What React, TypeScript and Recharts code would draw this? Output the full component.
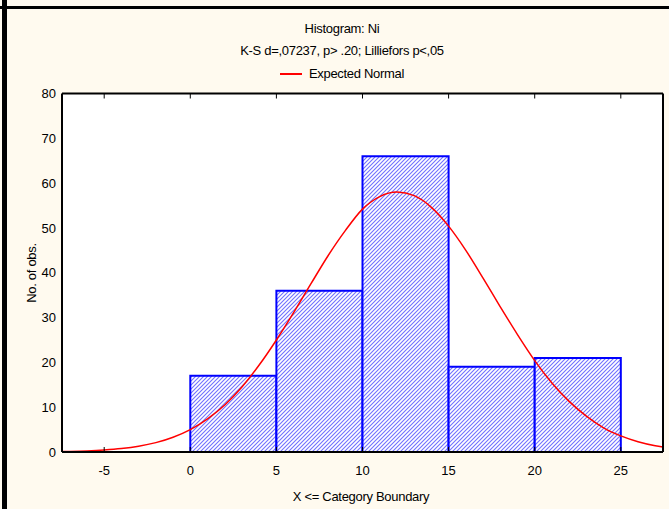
import React from "react";
import {
  ComposedChart,
  Line,
  XAxis,
  YAxis,
  CartesianGrid,
  ReferenceArea,
} from "recharts";

// histogram bins (upper boundary inclusive)
const binStarts = [0, 5, 10, 15, 20];
const binEnds = [5, 10, 15, 20, 25];
const binCounts = [17, 36, 66, 19, 21];

// expected normal curve
const curveX = [
  -7.45, -7, -6, -5, -4, -3, -2, -1, 0, 1, 2, 3, 4, 5, 6, 7, 8, 9, 10, 11, 12,
  13, 14, 15, 16, 17, 18, 19, 20, 21, 22, 23, 24, 25, 26, 27, 27.45,
];
const curveY = [
  0.1, 0.13, 0.24, 0.44, 0.76, 1.28, 2.09, 3.3, 5.0, 7.4, 10.5, 14.5, 19.4, 25.0,
  31.1, 37.5, 43.8, 49.4, 54.2, 57.0, 58.0, 57.2, 54.6, 50.4, 45.0, 38.8, 32.4,
  26.2, 20.4, 15.4, 11.3, 8.0, 5.4, 3.6, 2.3, 1.4, 1.1,
];

const xTicks = [-5, 0, 5, 10, 15, 20, 25];
const yTicks = [0, 10, 20, 30, 40, 50, 60, 70, 80];

const curveData = curveX.map((x, i) => ({ x, normal: curveY[i] }));

const font = "'Liberation Sans', Arial, sans-serif";
const blank = () => "";

export default function App() {
  const tickStyle = { fontSize: 13, fill: "#000", fontFamily: font };
  const textStyle: React.CSSProperties = {
    position: "absolute",
    left: 0,
    width: 684,
    textAlign: "center",
    fontFamily: font,
    fontSize: 13,
    letterSpacing: -0.3,
    color: "#000",
    lineHeight: "15px",
  };

  return (
    <div
      style={{
        position: "absolute",
        left: 0,
        top: 0,
        width: 669,
        height: 509,
        background: "#FFFAEF",
        overflow: "hidden",
      }}
    >
      <ComposedChart
        width={669}
        height={509}
        data={curveData}
        margin={{ top: 92.5, right: 5, bottom: 17, left: 12 }}
      >
        <defs>
          <pattern id="hatch" patternUnits="userSpaceOnUse" width="4" height="4">
            <rect width="4" height="4" fill="#fff" />
            <path d="M-1,1 L1,-1 M0,4 L4,0 M3,5 L5,3" stroke="#7070ff" strokeWidth={1.1} />
          </pattern>
        </defs>
        <rect x={62.5} y={93.5} width={600.5} height={358.5} fill="#fff" />
        <CartesianGrid
          vertical={false}
          stroke="#cfcfcf"
          strokeDasharray="3 2"
          fill="#fff"
        />
        <XAxis
          dataKey="x"
          type="number"
          domain={[-7.45, 27.45]}
          allowDataOverflow
          ticks={xTicks}
          height={40}
          tickSize={-5}
          tickMargin={19}
          tick={tickStyle}
          axisLine={{ stroke: "#000", strokeWidth: 2 }}
          tickLine={{ stroke: "#000" }}
        />
        <XAxis
          xAxisId="top"
          orientation="top"
          dataKey="x"
          type="number"
          domain={[-7.45, 27.45]}
          allowDataOverflow
          ticks={xTicks}
          height={1}
          tickSize={-5}
          tickFormatter={blank}
          axisLine={{ stroke: "#000", strokeWidth: 2 }}
          tickLine={{ stroke: "#000" }}
        />
        <YAxis
          type="number"
          domain={[0, 80]}
          ticks={yTicks}
          width={50}
          tickSize={-5}
          tickMargin={11}
          tick={tickStyle}
          axisLine={{ stroke: "#000", strokeWidth: 2 }}
          tickLine={false}
        />
        <YAxis
          yAxisId="right"
          orientation="right"
          type="number"
          domain={[0, 80]}
          ticks={yTicks}
          width={1}
          tickSize={-5}
          tickFormatter={blank}
          axisLine={{ stroke: "#000", strokeWidth: 2 }}
          tickLine={{ stroke: "#000" }}
        />
        {binCounts.map((c, i) => (
          <ReferenceArea
            key={i}
            x1={binStarts[i]}
            x2={binEnds[i]}
            y1={0}
            y2={c}
            fill="url(#hatch)"
            fillOpacity={1}
            stroke="#0000ff"
            strokeWidth={2}
          />
        ))}
        <Line
          dataKey="normal"
          name="Expected Normal"
          type="monotone"
          stroke="#ff0000"
          strokeWidth={1.5}
          dot={false}
          activeDot={false}
          isAnimationActive={false}
        />
      </ComposedChart>

      <div style={{ ...textStyle, top: 21 }}>Histogram: Ni</div>
      <div style={{ ...textStyle, top: 43 }}>
        K-S d=,07237, p&gt; .20; Lilliefors p&lt;,05
      </div>
      <div style={{ ...textStyle, top: 66 }}>
        <span
          style={{
            display: "inline-block",
            width: 22,
            height: 2,
            background: "#ff0000",
            verticalAlign: "middle",
            marginRight: 7,
            marginBottom: 2,
          }}
        />
        Expected Normal
      </div>
      <div style={{ ...textStyle, top: 489, left: 19 }}>X &lt;= Category Boundary</div>
      <div
        style={{
          position: "absolute",
          left: 31,
          top: 273,
          transform: "translate(-50%, -50%) rotate(-90deg)",
          fontFamily: font,
          fontSize: 13,
          letterSpacing: -0.3,
          whiteSpace: "nowrap",
        }}
      >
        No. of obs.
      </div>

      <div style={{ position: "absolute", left: 2, top: 0, width: 5, height: 509, background: "#000" }} />
      <div style={{ position: "absolute", left: 0, top: 6, width: 669, height: 3, background: "#000" }} />
    </div>
  );
}
